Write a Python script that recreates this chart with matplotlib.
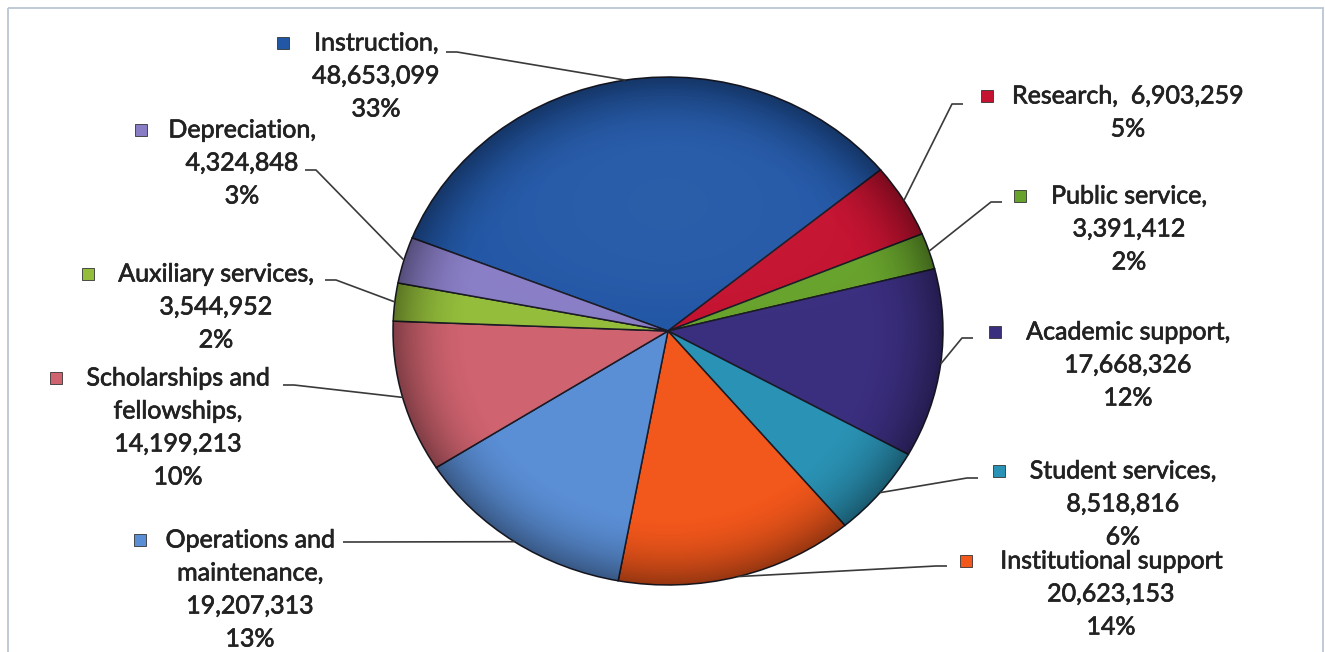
import numpy as np
import matplotlib.pyplot as plt
import matplotlib.patheffects as pe
from matplotlib.patches import Circle, Rectangle

# data
categories = ['Instruction', 'Research', 'Public service', 'Academic support',
              'Student services', 'Institutional support', 'Operations and maintenance',
              'Scholarships and fellowships', 'Auxiliary services', 'Depreciation']
values = [48653099, 6903259, 3391412, 17668326, 8518816,
          20623153, 19207313, 14199213, 3544952, 4324848]
label_heads = ['Instruction,', 'Research,', 'Public service,', 'Academic support,',
               'Student services,', 'Institutional support', 'Operations and\nmaintenance,',
               'Scholarships and\nfellowships,', 'Auxiliary services,', 'Depreciation,']
colors = ['#2257a6', '#c41230', '#67a22c', '#3a2e7e', '#2a92b4',
          '#f2571b', '#5a8ed5', '#cf636f', '#93bd3b', '#897ec6']

# label layout in pixels (text centre x, first line y, marker x, stub x, stub y, stub dir)
layout = [
    (376, 43, 283, 446, 52, 1),
    (1128, 96, 987, 963, 104, -1),
    (1129, 196, 1020, 1002, 202, -1),
    (1128, 332, 995, 973, 338, -1),
    (1123, 471, 999, 978, 478, -1),
    (1111, 561, 966, 947, 566, -1),
    (250, 540, 140, 343, 542, 1),
    (178, 378, 56, 283, 385, 1),
    (216, 274, 88, 325, 280, 1),
    (242, 130, 141, 305, 170, 1),
]

W, H = 1325, 652
plt.rcParams['font.family'] = ['Lato', 'DejaVu Sans']
fig = plt.figure(figsize=(W / 100, H / 100), dpi=100)
fig.patch.set_facecolor('white')

# pie (slightly elliptical like the scan)
cx, cy, rx, ry = 668, 331, 275, 254
pad = 1.05
ax = fig.add_axes([(cx - rx * pad) / W, 1 - (cy + ry * pad) / H,
                   2 * rx * pad / W, 2 * ry * pad / H])
wedges, _ = ax.pie(values, colors=colors, startangle=158.5, counterclock=False,
                   wedgeprops=dict(edgecolor='#1b1b26', linewidth=1.1))

# soft bevel shading on top of the wedges
yy, xx = np.mgrid[-1:1:500j, -1:1:500j]
r = np.hypot(xx, yy)
shade = np.zeros((500, 500, 4))
shade[..., 3] = np.clip((r - 0.72) / 0.28, 0, 1) ** 2 * 0.38
hl = np.zeros((500, 500, 4))
hl[..., :3] = 1.0
hl[..., 3] = np.clip(yy, 0, 1) * np.clip(1 - r, 0, 1) * 0.18
for img in (shade, hl):
    im = ax.imshow(img, extent=(-1, 1, -1, 1), origin='lower', zorder=3,
                   aspect='auto', interpolation='bilinear')
    im.set_clip_path(Circle((0, 0), 1, transform=ax.transData))
ax.set_aspect('auto')
ax.set_xlim(-pad, pad)
ax.set_ylim(-pad, pad)
ax.axis('off')

# overlay in pixel coordinates for labels and leader lines
ov = fig.add_axes([0, 0, 1, 1], zorder=5)
ov.set_xlim(0, W)
ov.set_ylim(H, 0)
ov.axis('off')
ov.patch.set_alpha(0)
ov.add_patch(Rectangle((8, 8), W - 10, H - 4, fill=False, ec='#b9c6d3', lw=1.3))


def pie_point(theta_deg):
    t = np.deg2rad(theta_deg)
    disp = ax.transData.transform((np.cos(t), np.sin(t)))
    return ov.transData.inverted().transform(disp)


total = sum(values)
txt_color = '#222222'
fs = 18
line_h = 33
thicken = [pe.withStroke(linewidth=0.5, foreground=txt_color)]
for i, (w, v) in enumerate(zip(wedges, values)):
    tx, ty, mx, sx, sy, sd = layout[i]
    pct = round(v / total * 100)
    head = label_heads[i].split('\n')
    if categories[i] == 'Research':
        lines = [head[0] + '  ' + f'{v:,}', f'{pct}%']
    else:
        lines = head + [f'{v:,}', f'{pct}%']
    for k, s in enumerate(lines):
        ov.text(tx, ty + k * line_h, s, ha='center', va='center',
                fontsize=fs, color=txt_color, path_effects=thicken)
    ov.add_patch(Rectangle((mx - 6, ty - 6), 12, 12, fc=colors[i],
                           ec='#333333', lw=0.6))
    px, py = pie_point((w.theta1 + w.theta2) / 2)
    ov.plot([sx, sx + sd * 11, px], [sy, sy, py], color='#3a3a3a', lw=1.2,
            solid_capstyle='butt')

fig.savefig('out.png', dpi=100, facecolor='white')
